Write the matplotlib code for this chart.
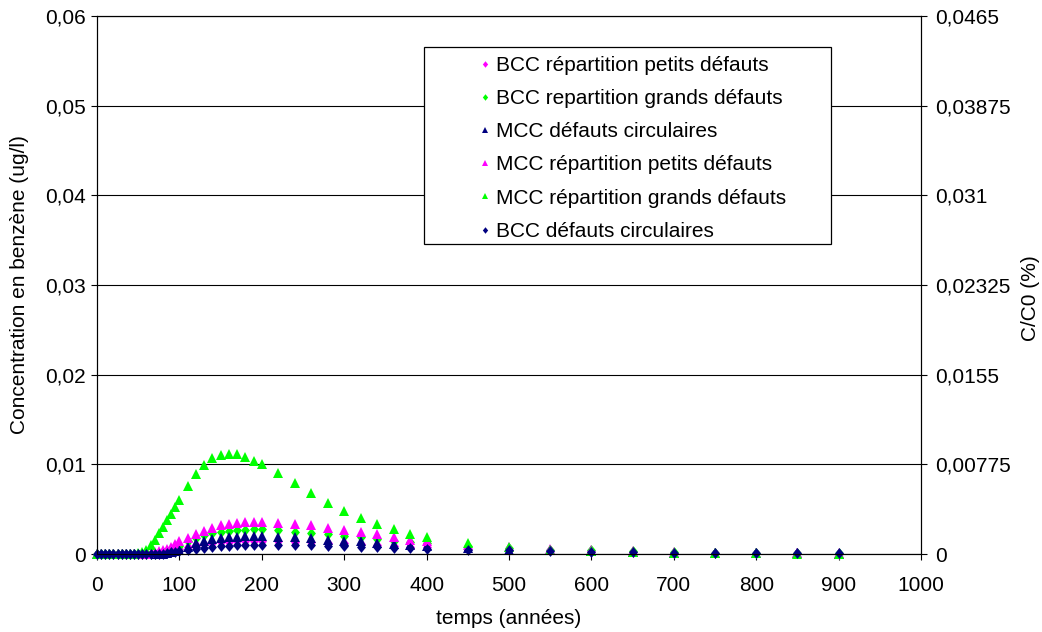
import matplotlib
matplotlib.use("Agg")
import matplotlib.pyplot as plt
from matplotlib.patches import Rectangle
from matplotlib.ticker import FixedLocator, FuncFormatter

plt.rcParams['font.family'] = ['Liberation Sans', 'DejaVu Sans']

# Time axis (years)
temps = [0, 5, 10, 15, 20, 25, 30, 35, 40, 45, 50, 55, 60, 65, 70, 75, 80, 85, 90, 95, 100,
         110, 120, 130, 140, 150, 160, 170, 180, 190, 200,
         220, 240, 260, 280, 300, 320, 340, 360, 380, 400,
         450, 500, 550, 600, 650, 700, 750, 800, 850, 900]

# Benzene concentration (ug/l) for each scenario
bcc_petits = [0, 0, 0, 0, 0, 0, 0, 0, 0, 0, 0, 0, 0, 0, 0, 0, 0.0001, 0.0002, 0.0003, 0.0004, 0.0006,
              0.0008, 0.0010, 0.0011, 0.0012, 0.0013, 0.0013, 0.0014, 0.0014, 0.0014, 0.0014,
              0.0014, 0.0013, 0.0013, 0.0012, 0.0012, 0.0011, 0.0010, 0.0009, 0.0008, 0.0008,
              0.0006, 0.0005, 0.0004, 0.0003, 0.0002, 0.00015, 0.0001, 0.00008, 0.00006, 0.00005]
bcc_grands = [0, 0, 0, 0, 0, 0, 0, 0, 0, 0, 0, 0, 0, 0, 0, 0.0001, 0.0002, 0.0003, 0.0005, 0.0007, 0.0009,
              0.0014, 0.0018, 0.0021, 0.0023, 0.0025, 0.0026, 0.0027, 0.0027, 0.0028, 0.0028,
              0.0027, 0.0025, 0.0023, 0.0022, 0.0020, 0.0019, 0.0017, 0.0015, 0.0013, 0.0012,
              0.0009, 0.0007, 0.0005, 0.0004, 0.0003, 0.0002, 0.00015, 0.0001, 0.00008, 0.00006]
mcc_circ = [0, 0, 0, 0, 0, 0, 0, 0, 0, 0, 0, 0, 0, 0, 0, 0, 0, 0.0001, 0.0002, 0.0003, 0.0005,
            0.0008, 0.0012, 0.0015, 0.0017, 0.0018, 0.0019, 0.0019, 0.0020, 0.0020, 0.0020,
            0.0019, 0.0019, 0.0018, 0.0016, 0.0015, 0.0014, 0.0012, 0.0011, 0.0010, 0.0009,
            0.0007, 0.0005, 0.0004, 0.0003, 0.0002, 0.00015, 0.0001, 0.00008, 0.00006, 0.00005]
mcc_petits = [0, 0, 0, 0, 0, 0, 0, 0, 0, 0, 0, 0, 0.00005, 0.0001, 0.0002, 0.0003, 0.0004, 0.0006, 0.0008, 0.0011, 0.0014,
              0.0018, 0.0022, 0.0026, 0.0029, 0.0032, 0.0033, 0.0035, 0.0036, 0.0036, 0.0036,
              0.0035, 0.0033, 0.0032, 0.0029, 0.0027, 0.0024, 0.0022, 0.0019, 0.0016, 0.0014,
              0.0010, 0.0008, 0.0006, 0.0004, 0.0003, 0.0002, 0.00015, 0.0001, 0.00008, 0.00006]
mcc_grands = [0, 0, 0, 0, 0, 0, 0, 0, 0, 0, 0.0001, 0.0002, 0.0005, 0.0010, 0.0016, 0.0023, 0.0030, 0.0038, 0.0045, 0.0052, 0.0060,
              0.0076, 0.0089, 0.0099, 0.0107, 0.0110, 0.0112, 0.0111, 0.0108, 0.0104, 0.0100,
              0.0090, 0.0079, 0.0068, 0.0057, 0.0048, 0.0040, 0.0033, 0.0028, 0.0022, 0.0019,
              0.0012, 0.0008, 0.0005, 0.0003, 0.0002, 0.00015, 0.0001, 0.00007, 0.00005, 0.00003]
bcc_circ = [0, 0, 0, 0, 0, 0, 0, 0, 0, 0, 0, 0, 0, 0, 0, 0, 0, 0.0001, 0.0002, 0.0002, 0.0003,
            0.0005, 0.0006, 0.0007, 0.0008, 0.0009, 0.0009, 0.0010, 0.0010, 0.0010, 0.0010,
            0.0010, 0.0010, 0.0010, 0.0009, 0.0009, 0.0008, 0.0008, 0.0007, 0.0007, 0.0006,
            0.0005, 0.0004, 0.0003, 0.0002, 0.0002, 0.00015, 0.0001, 0.0001, 0.00008, 0.00006]

labels = ["BCC répartition petits défauts",
          "BCC repartition grands défauts",
          "MCC défauts circulaires",
          "MCC répartition petits défauts",
          "MCC répartition grands défauts",
          "BCC défauts circulaires"]

x_ticks = [0, 100, 200, 300, 400, 500, 600, 700, 800, 900, 1000]
y_ticks = [0, 0.01, 0.02, 0.03, 0.04, 0.05, 0.06]
y2_ticks = [0, 0.00775, 0.0155, 0.02325, 0.031, 0.03875, 0.0465]
y2_labels = ["0", "0,00775", "0,0155", "0,02325", "0,031", "0,03875", "0,0465"]

MAGENTA = "#FF00FF"
GREEN = "#00FF00"
NAVY = "#000080"

# Diamond slightly taller than wide
diamond = [(0, 1), (0.82, 0), (0, -1), (-0.82, 0), (0, 1)]

W, H = 1042, 632
fig = plt.figure(figsize=(W / 100, H / 100), dpi=100)
L, R, T, B = 97, 921, 16, 554
ax = fig.add_axes([L / W, 1 - B / H, (R - L) / W, (B - T) / H])

series = [
    (bcc_petits, MAGENTA, diamond, 7.8),
    (bcc_grands, GREEN, diamond, 7.8),
    (mcc_circ, NAVY, "^", 7.4),
    (mcc_petits, MAGENTA, "^", 7.4),
    (mcc_grands, GREEN, "^", 7.4),
    (bcc_circ, NAVY, diamond, 7.8),
]
handles = []
for (vals, col, mk, ms), lab in zip(series, labels):
    h, = ax.plot(temps, vals, linestyle="none", marker=mk, markersize=ms,
                 color=col, markeredgecolor=col, markeredgewidth=0, label=lab,
                 clip_on=False, zorder=3)
    handles.append(h)

FS = 15
ax.set_xlim(0, 1000)
ax.set_ylim(0, 0.06)
ax.xaxis.set_major_locator(FixedLocator(x_ticks))
ax.yaxis.set_major_locator(FixedLocator(y_ticks))
ax.yaxis.set_major_formatter(FuncFormatter(
    lambda v, p: "0" if v == 0 else f"{v:.2f}".replace(".", ",")))
ax.yaxis.grid(True, color="black", linewidth=0.8)
ax.set_axisbelow(True)
ax.tick_params(axis="both", direction="out", length=4, width=0.8,
               colors="black", labelsize=FS)
ax.tick_params(axis="x", pad=12)
ax.tick_params(axis="y", pad=4)
for s in ax.spines.values():
    s.set_color("black")
    s.set_linewidth(0.8)

ax2 = ax.twinx()
ax2.set_ylim(0, 0.0465)
ax2.yaxis.set_major_locator(FixedLocator(y2_ticks))
ax2.set_yticklabels(y2_labels)
ax2.tick_params(axis="y", direction="out", length=4, width=0.8,
                colors="black", labelsize=FS, pad=6)
for s in ax2.spines.values():
    s.set_color("black")
    s.set_linewidth(0.8)

fig.text(20 / W, 1 - 285 / H, "Concentration en benzène (ug/l)", rotation=90,
         ha="center", va="center", fontsize=FS)
fig.text(1031 / W, 1 - 298 / H, "C/C0 (%)", rotation=90,
         ha="center", va="center", fontsize=FS)
fig.text((L + R) / 2 / W, 1 - 619 / H, "temps (années)",
         ha="center", va="center", fontsize=FS)

# Legend box
lx0, ly0, lx1, ly1 = 424, 47, 831, 244
fig.patches.append(Rectangle((lx0 / W, 1 - ly1 / H), (lx1 - lx0) / W, (ly1 - ly0) / H,
                             transform=fig.transFigure, facecolor="white",
                             edgecolor="black", linewidth=0.9, zorder=5))
leg = fig.legend(handles=handles, labels=labels, loc="upper left",
                 bbox_to_anchor=(479 / W, 1 - 56 / H), frameon=False,
                 fontsize=FS, markerscale=0.6, handlelength=0.6,
                 handletextpad=0.22, labelspacing=0.68, borderaxespad=0,
                 borderpad=0.0)
leg.set_zorder(6)

fig.savefig("out.png", dpi=100)
